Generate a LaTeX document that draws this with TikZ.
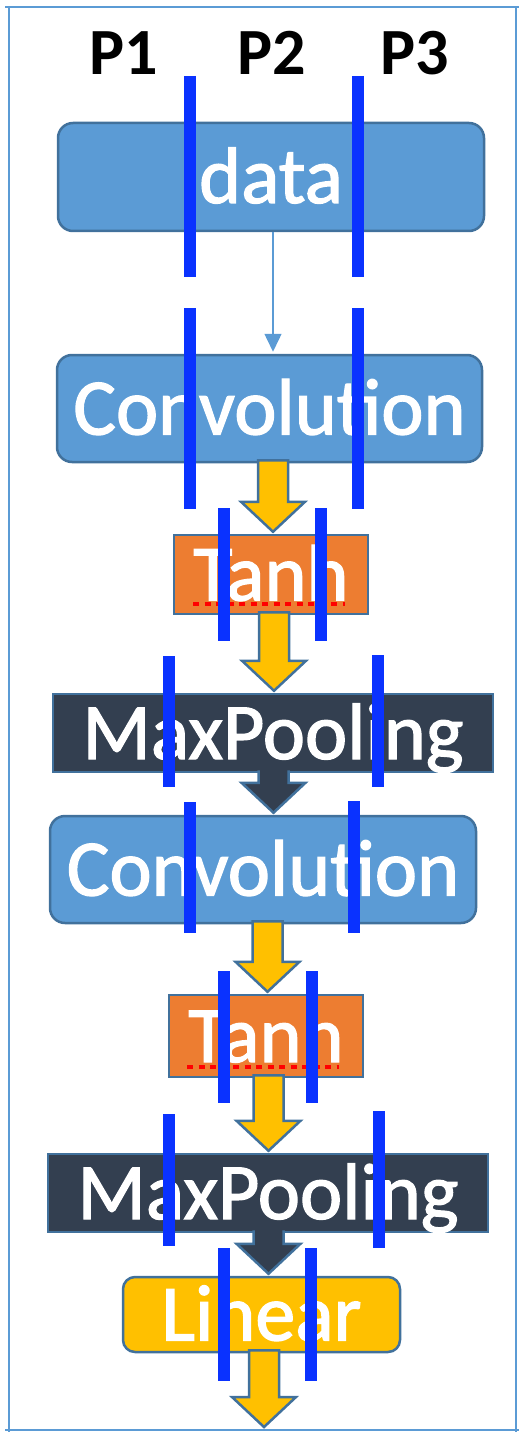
\documentclass[tikz,border=0pt]{standalone}
\usepackage{fontspec}
\setmainfont{Carlito}
\newfontfamily\boxfont[FakeBold=1.6]{Carlito}
\usetikzlibrary{calc,arrows.meta}
\definecolor{lblue}{HTML}{5B9BD5}
\definecolor{bord}{HTML}{41719C}
\definecolor{orng}{HTML}{ED7D31}
\definecolor{navy}{HTML}{333F50}
\definecolor{gold}{HTML}{FFC000}
\definecolor{barblue}{HTML}{0A32FF}
\definecolor{ulred}{HTML}{FF0000}
\tikzset{
 box/.style={draw=bord, line width=2.5pt, inner sep=0pt, text=white,
   font=\boxfont\fontsize{80}{80}\selectfont, text height=52pt, text depth=0pt},
 rbox/.style={box, rounded corners=15pt},
 bar/.style={draw=barblue, line width=12pt},
 framel/.style={draw=lblue, line width=2.5pt},
 plabel/.style={font=\fontsize{66}{66}\selectfont\bfseries, inner sep=0pt, anchor=base},
 arrowline/.style={draw=bord, line width=2.5pt, line join=miter},
 thinarrow/.style={draw=lblue, line width=1.5pt, -{Triangle[length=18pt,width=17pt]}},
 squiggle/.style={draw=ulred, line width=4pt, dash pattern=on 6pt off 5.5pt}
}
% #1 source point, #2 target point, #3 x centre, #4 fill, #5 closing
\newcommand\blockarr[5]{%
 \path[arrowline, fill=#4] let \p1=(#1), \p2=(#2) in
  ({#3pt-15pt},{\y1+3pt}) -- ({#3pt-15pt},{\y2+32pt}) -- ({#3pt-32pt},{\y2+32pt})
  -- ({#3pt},{\y2+2pt}) -- ({#3pt+32pt},{\y2+32pt}) -- ({#3pt+15pt},{\y2+32pt})
  -- ({#3pt+15pt},{\y1+3pt}) #5;}
\begin{document}
\begin{tikzpicture}[x=1pt,y=-1pt]
\useasboundingbox (0,0) rectangle (525,1439);
% frame
\draw[framel] (5,7) -- (519,7);
\draw[framel] (5,1430) -- (519,1430);
\draw[framel] (9,7) -- (9,1432);
\draw[framel] (516,7) -- (516,1432);
% labels
\node[plabel] (p1) at (124,75) {P1};
\node[plabel] (p2) at (272,75) {P2};
\node[plabel] (p3) at (415,75) {P3};
% boxes
\node[rbox, fill=lblue, minimum width=426pt, minimum height=108pt] (data) at (271,177) {data};
\node[rbox, fill=lblue, minimum width=425pt, minimum height=107pt] (conv1) at (269.5,408.5) {Convolution};
\node[box, fill=orng, minimum width=194pt, minimum height=79pt] (tanh1) at (271,574.5) {Tanh};
\node[box, fill=navy, minimum width=440pt, minimum height=78pt] (mp1) at (273,733) {MaxPooling};
\node[rbox, fill=lblue, minimum width=426pt, minimum height=107pt] (conv2) at (263,869.5) {Convolution};
\node[box, fill=orng, minimum width=194pt, minimum height=82pt] (tanh2) at (266,1036) {Tanh};
\node[box, fill=navy, minimum width=440pt, minimum height=78pt] (mp2) at (268,1193) {MaxPooling};
\node[rbox, fill=gold, rounded corners=12pt, minimum width=277pt, minimum height=75pt] (linear) at (261.5,1314.5) {Linear};
\coordinate (out) at (264,1429);
\coordinate (thinx) at (273,0);
% red underlines
\draw[squiggle] (193,604) -- (345,604);
\draw[squiggle] (187,1067) -- (339,1067);
% connectors
\draw[thinarrow] (data.south -| thinx) -- ([yshift=2pt]conv1.north -| thinx);
\blockarr{conv1.south}{tanh1.north}{273}{gold}{-- cycle}
\blockarr{tanh1.south}{mp1.north}{274}{gold}{-- cycle}
\blockarr{mp1.south}{conv2.north}{273.5}{navy}{}
\blockarr{conv2.south}{tanh2.north}{267.5}{gold}{-- cycle}
\blockarr{tanh2.south}{mp2.north}{268.5}{gold}{-- cycle}
\blockarr{mp2.south}{linear.north}{268.5}{navy}{}
\blockarr{linear.south}{out}{264}{gold}{-- cycle}
% partition bars
\draw[bar] (190,76) -- (190,277);
\draw[bar] (358,76) -- (358,277);
\draw[bar] (190,308) -- (190,509);
\draw[bar] (358,308) -- (358,509);
\draw[bar] (224,508) -- (224,641);
\draw[bar] (321,508) -- (321,641);
\draw[bar] (169,656) -- (169,787);
\draw[bar] (378,655) -- (378,787);
\draw[bar] (190,802) -- (190,933);
\draw[bar] (354,801) -- (354,933);
\draw[bar] (224,971) -- (224,1103);
\draw[bar] (312,971) -- (312,1103);
\draw[bar] (169,1114) -- (169,1246);
\draw[bar] (379,1111) -- (379,1248);
\draw[bar] (224,1248) -- (224,1381);
\draw[bar] (311,1248) -- (311,1381);
\end{tikzpicture}
\end{document}
